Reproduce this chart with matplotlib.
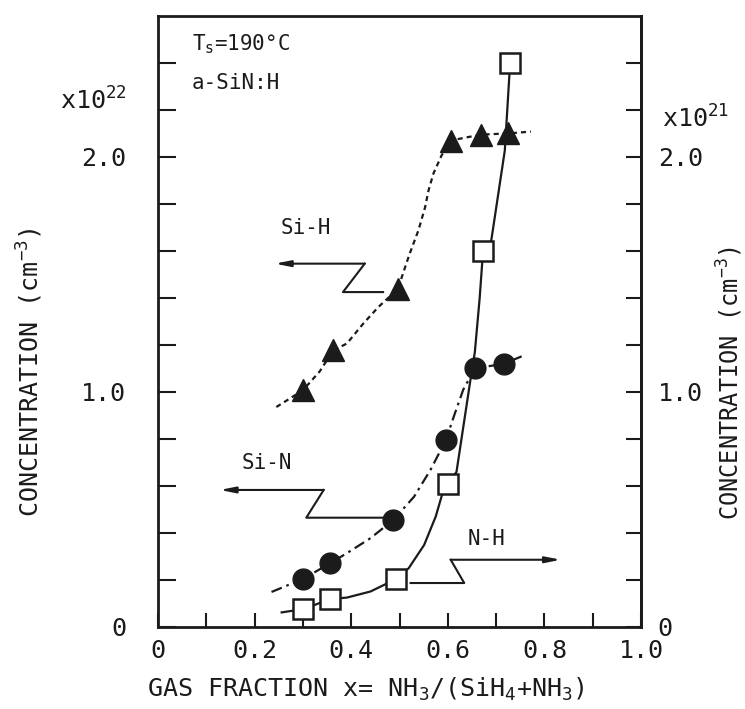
import numpy as np
import matplotlib
matplotlib.use("Agg")
import matplotlib.pyplot as plt

plt.rcParams['font.family'] = ['DejaVu Sans Mono']
plt.rcParams['mathtext.fontset'] = 'custom'
plt.rcParams['mathtext.rm'] = 'DejaVu Sans Mono'
plt.rcParams['mathtext.it'] = 'DejaVu Sans Mono'
plt.rcParams['mathtext.bf'] = 'DejaVu Sans Mono:bold'
plt.rcParams['mathtext.default'] = 'regular'

INK = '#1b1b1b'

# Bond concentrations vs. NH3 gas fraction (a-SiN:H, Ts = 190 C)
x_sih = [0.300, 0.363, 0.497, 0.606, 0.668, 0.724]
sih = [1.01, 1.18, 1.44, 2.07, 2.095, 2.10]          # x1e22 cm^-3 (left)

x_sin = [0.301, 0.357, 0.487, 0.596, 0.656, 0.716]
sin = [0.205, 0.272, 0.455, 0.795, 1.10, 1.12]        # x1e22 cm^-3 (left)

x_nh = [0.301, 0.357, 0.493, 0.600, 0.673, 0.729]
nh = [0.076, 0.119, 0.204, 0.607, 1.60, 2.40]         # x1e21 cm^-3 (right)

# Hand-drawn guide curves through each set
sih_fit_x = [0.245, 0.300, 0.335, 0.363, 0.391, 0.425, 0.456, 0.497, 0.507,
             0.521, 0.539, 0.553, 0.560, 0.570, 0.587, 0.606, 0.668, 0.724, 0.772]
sih_fit_y = [0.936, 1.007, 1.088, 1.177, 1.206, 1.291, 1.361, 1.439, 1.503,
             1.588, 1.687, 1.786, 1.857, 1.928, 2.006, 2.070, 2.095, 2.100, 2.108]

sin_fit_x = [0.235, 0.301, 0.357, 0.391, 0.440, 0.487, 0.530, 0.564, 0.596,
             0.614, 0.632, 0.656, 0.716, 0.757]
sin_fit_y = [0.149, 0.205, 0.272, 0.314, 0.378, 0.455, 0.554, 0.668, 0.795,
             0.905, 1.010, 1.100, 1.120, 1.155]

nh_fit_x = [0.256, 0.301, 0.357, 0.391, 0.440, 0.493, 0.519, 0.551, 0.575,
            0.589, 0.600, 0.618, 0.632, 0.646, 0.656, 0.666, 0.673, 0.690,
            0.718, 0.722, 0.729]
nh_fit_y = [0.062, 0.076, 0.119, 0.125, 0.151, 0.204, 0.250, 0.349, 0.470,
            0.569, 0.607, 0.660, 0.850, 1.040, 1.170, 1.400, 1.600, 1.645,
            2.027, 2.162, 2.400]

x_ticks = [0.0, 0.2, 0.4, 0.6, 0.8, 1.0]
x_tick_labels = ['0', '0.2', '0.4', '0.6', '0.8', '1.0']
y_ticks = [0.0, 1.0, 2.0]
y_tick_labels = ['0', '1.0', '2.0']

fig = plt.figure(figsize=(7.45, 7.09), dpi=100)
fig.patch.set_facecolor('white')
ax = fig.add_axes([0.2121, 0.1157, 0.6483, 0.8618])
ax.set_xlim(0, 1.0)
ax.set_ylim(0, 2.6)
ax2 = ax.twinx()
ax2.set_ylim(0, 2.6)

for side in ['left', 'right', 'top', 'bottom']:
    ax.spines[side].set_linewidth(2.0)
    ax.spines[side].set_color(INK)
for side in ['left', 'top', 'bottom']:
    ax2.spines[side].set_visible(False)
ax2.spines['right'].set_linewidth(2.0)
ax2.spines['right'].set_color(INK)

# x axis
ax.set_xticks(x_ticks)
ax.set_xticklabels(x_tick_labels)
ax.set_xticks(np.arange(0.1, 1.0, 0.2), minor=True)
ax.tick_params(axis='x', which='both', direction='in', length=10, width=1.5,
               color=INK, pad=9, labelsize=18, labelcolor=INK, top=False)

# left y axis
ax.set_yticks(y_ticks)
ax.set_yticklabels(y_tick_labels)
ax.set_yticks(np.arange(0.2, 2.41, 0.2), minor=True)
ax.tick_params(axis='y', which='both', direction='in', length=13, width=1.5,
               color=INK, pad=23, labelsize=18, labelcolor=INK, right=False)

# right y axis
ax2.set_yticks(y_ticks)
ax2.set_yticklabels(y_tick_labels)
ax2.set_yticks(np.arange(0.2, 2.41, 0.2), minor=True)
ax2.tick_params(axis='y', which='both', direction='in', length=11, width=1.5,
                color=INK, pad=12, labelsize=18, labelcolor=INK)

# guide curves
ax.plot(sih_fit_x, sih_fit_y, color=INK, lw=1.6, dashes=(2.3, 1.8), zorder=2)
ax.plot(sin_fit_x, sin_fit_y, color=INK, lw=1.6,
        dashes=(5.0, 2.2, 1.2, 2.2), zorder=2)
ax2.plot(nh_fit_x, nh_fit_y, color=INK, lw=1.6, zorder=2)

# data markers
ax.plot(x_sih, sih, linestyle='none', marker='^', ms=16, color=INK, zorder=4)
ax.plot(x_sin, sin, linestyle='none', marker='o', ms=15, color=INK, zorder=4)
ax2.plot(x_nh, nh, linestyle='none', marker='s', ms=14, mfc='white',
         mec=INK, mew=1.8, zorder=4)

# bond labels with zig-zag pointers to their axes
arrow_kw = dict(arrowstyle='-|>,head_length=0.9,head_width=0.18',
                color=INK, lw=1.5, shrinkA=0, shrinkB=0)

ax.text(0.307, 1.696, 'Si-H', ha='center', va='center', fontsize=15,
        color=INK)
ax.plot([0.466, 0.383, 0.428], [1.425, 1.425, 1.546], color=INK, lw=1.5)
ax.annotate('', xy=(0.242, 1.546), xytext=(0.428, 1.546),
            arrowprops=arrow_kw)

ax.text(0.225, 0.699, 'Si-N', ha='center', va='center', fontsize=15,
        color=INK)
ax.plot([0.467, 0.307, 0.343], [0.465, 0.465, 0.583], color=INK, lw=1.5)
ax.annotate('', xy=(0.128, 0.583), xytext=(0.343, 0.583),
            arrowprops=arrow_kw)

ax.text(0.680, 0.374, 'N-H', ha='center', va='center', fontsize=15,
        color=INK)
ax.plot([0.523, 0.634, 0.606], [0.187, 0.187, 0.286], color=INK, lw=1.5)
ax.annotate('', xy=(0.834, 0.286), xytext=(0.606, 0.286),
            arrowprops=arrow_kw)

# sample conditions
ax.text(0.070, 0.954, r'T$_{s}$=190°C', transform=ax.transAxes, ha='left',
        va='center', fontsize=15, color=INK)
ax.text(0.070, 0.890, 'a-SiN:H', transform=ax.transAxes, ha='left',
        va='center', fontsize=15, color=INK)

# axis multipliers
ax.text(-0.064, 0.861, r'x10$^{22}$', transform=ax.transAxes, ha='right',
        va='center', fontsize=18, color=INK)
ax.text(1.043, 0.832, r'x10$^{21}$', transform=ax.transAxes, ha='left',
        va='center', fontsize=18, color=INK)

# axis titles
ax.set_xlabel(r'GAS FRACTION x= NH$_{3}$/(SiH$_{4}$+NH$_{3}$)', fontsize=18,
              color=INK)
ax.xaxis.set_label_coords(0.43, -0.080)
ax.set_ylabel(r'CONCENTRATION (cm$^{-3}$)', fontsize=18, color=INK)
ax.yaxis.set_label_coords(-0.234, 0.417)
ax2.set_ylabel(r'CONCENTRATION (cm$^{-3}$)', fontsize=17, color=INK)
ax2.yaxis.set_label_coords(1.152, 0.399)

fig.savefig('out.png', dpi=100, facecolor='white')
